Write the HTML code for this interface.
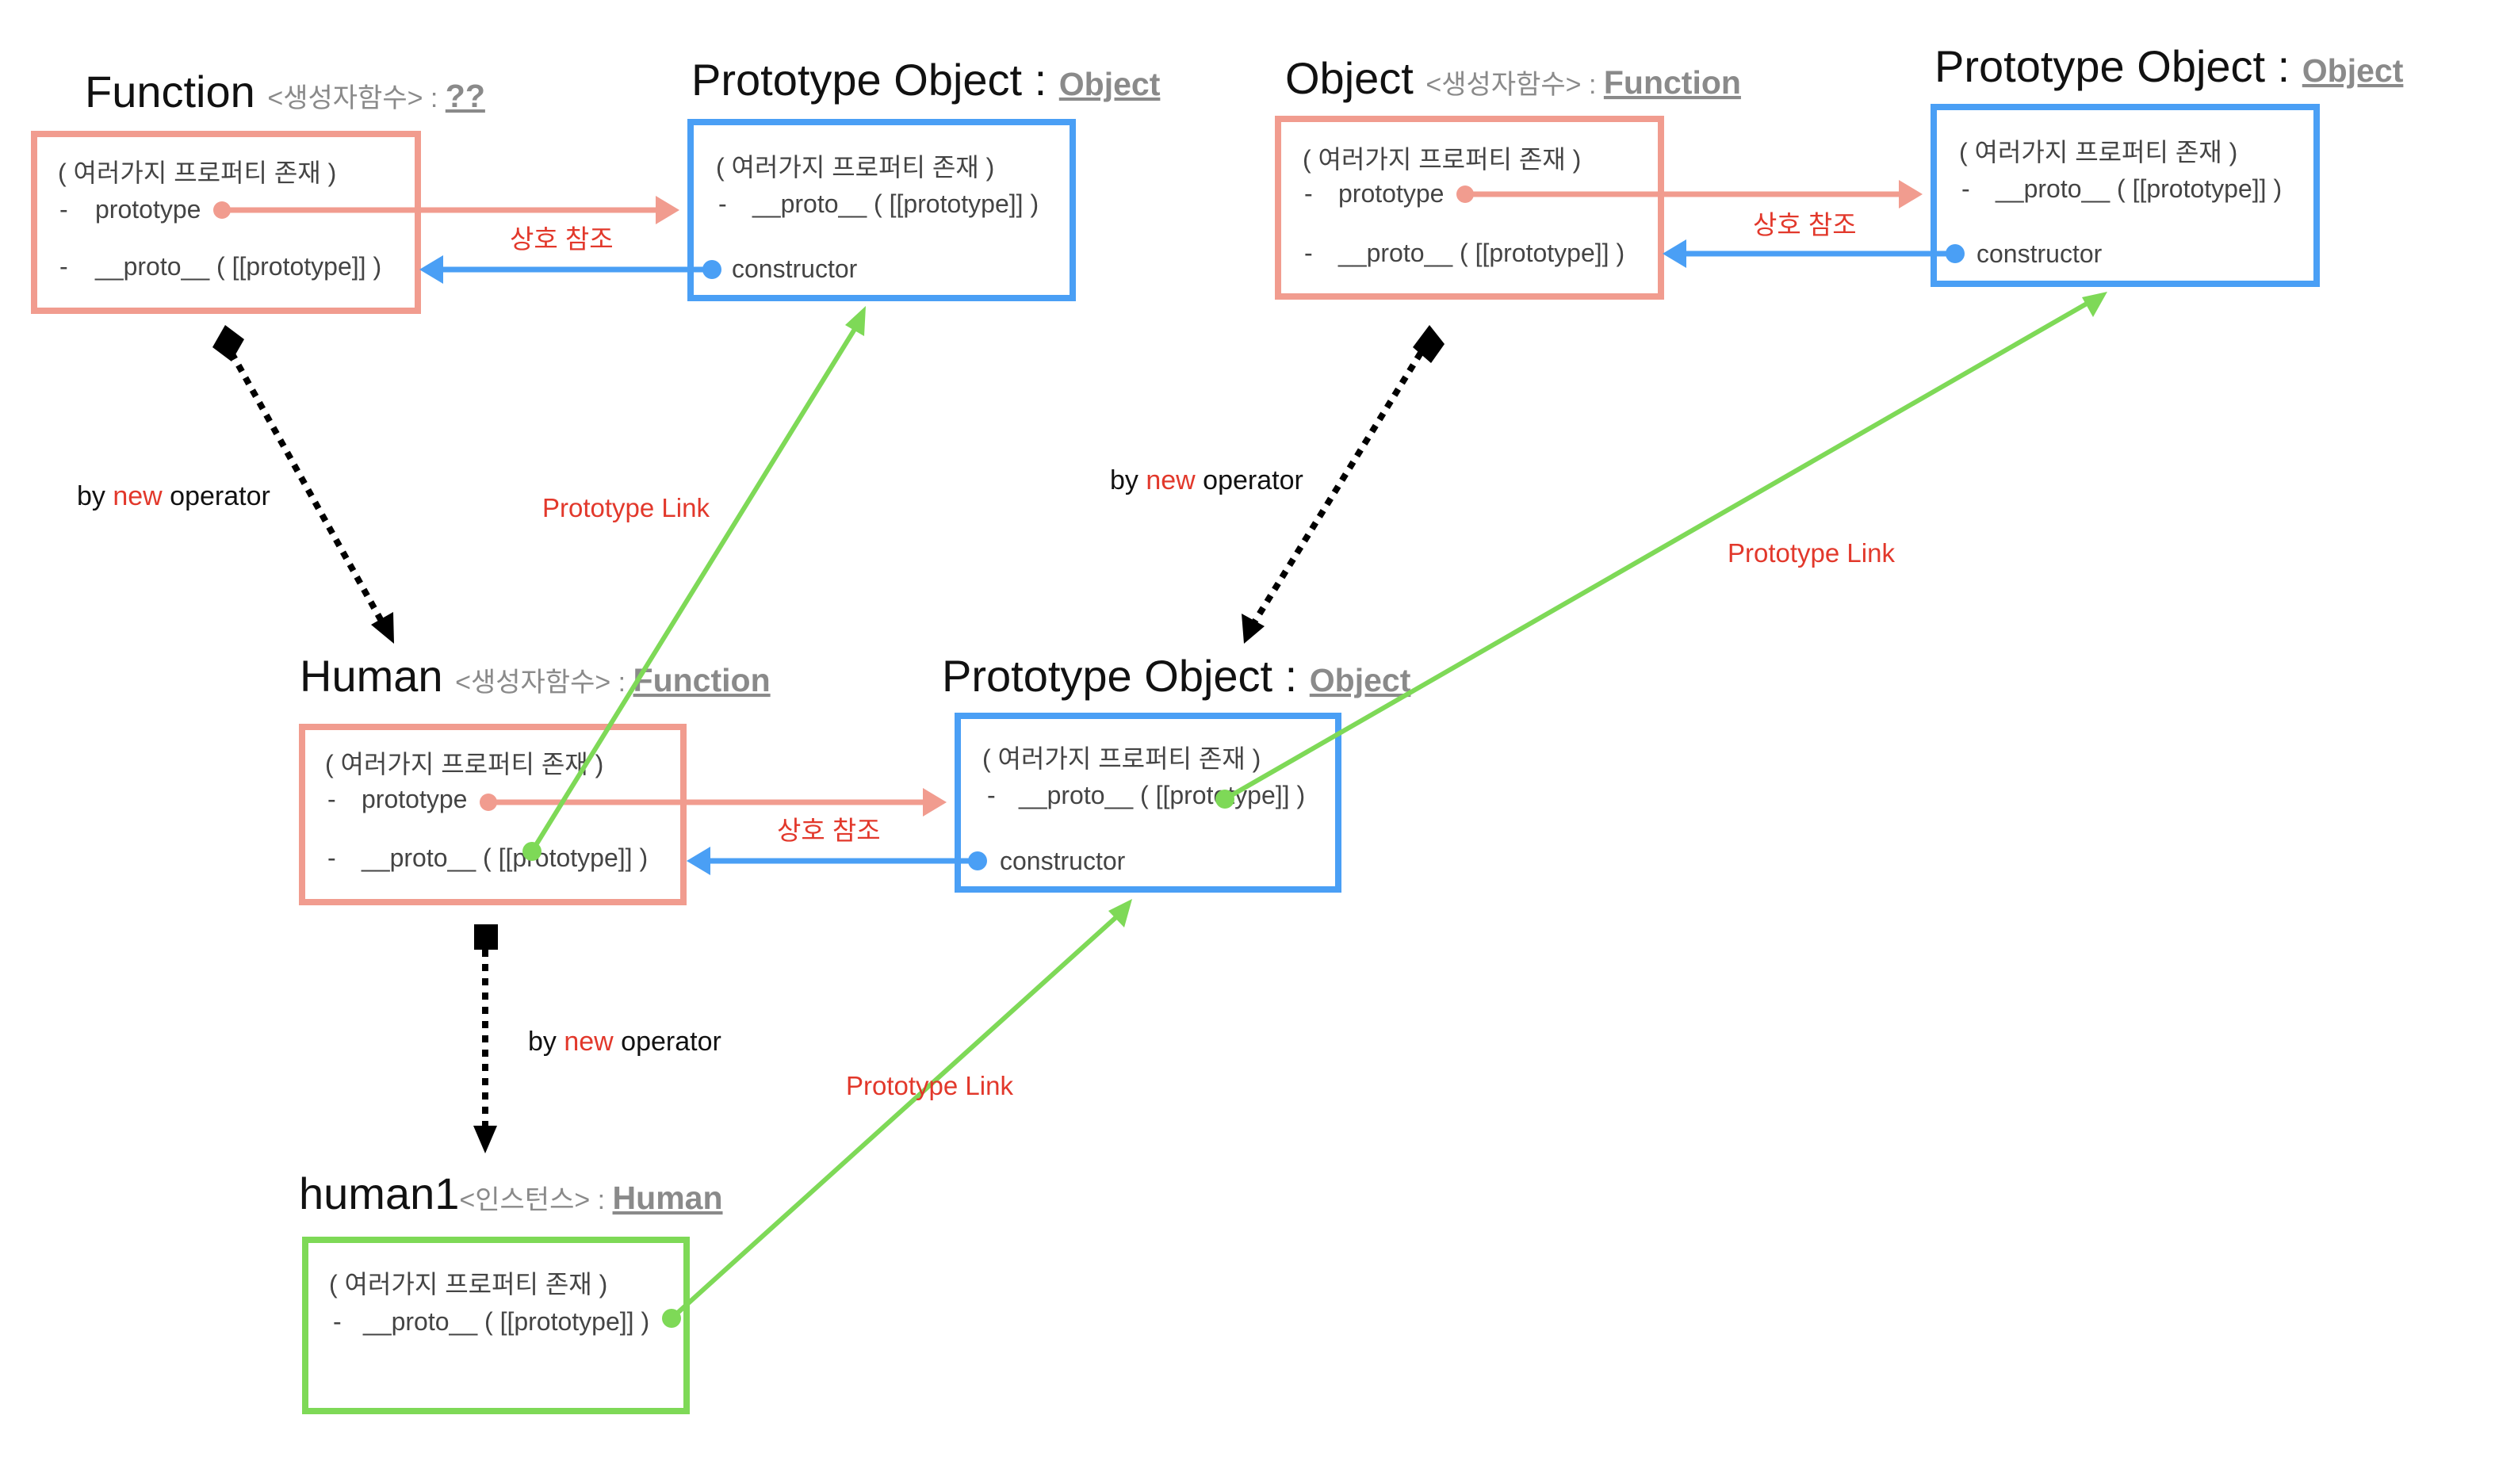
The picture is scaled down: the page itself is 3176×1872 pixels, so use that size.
<!DOCTYPE html>
<html><head><meta charset="utf-8"><style>
html,body{margin:0;padding:0;background:#fff;}
svg{display:block;}
text{font-family:"Liberation Sans","Noto Sans CJK KR",sans-serif;}
.t{font-size:56px;fill:#111;}
.s{font-size:34px;fill:#8a8a8a;}
.u{font-size:41px;font-weight:bold;fill:#8a8a8a;text-decoration:underline;}
.b{font-size:32px;fill:#444;}
.r{font-size:33px;fill:#e2382b;}
.k{font-size:34px;fill:#111;}
</style></head><body>
<svg width="3176" height="1872" viewBox="0 0 3176 1872" xmlns="http://www.w3.org/2000/svg">
<g fill="none" stroke-width="8">
<rect x="43" y="169" width="484" height="223" stroke="#f19c8f"/>
<rect x="871" y="154" width="482" height="222" stroke="#4a9ff5"/>
<rect x="1612" y="150" width="483" height="224" stroke="#f19c8f"/>
<rect x="2439" y="135" width="483" height="223" stroke="#4a9ff5"/>
<rect x="381" y="917" width="481" height="221" stroke="#f19c8f"/>
<rect x="1208" y="903" width="480" height="219" stroke="#4a9ff5"/>
<rect x="385" y="1564" width="481" height="216" stroke="#7ed957"/>
</g>

<text x="107" y="135" class="t">Function <tspan class="s">&lt;생성자함수&gt; : </tspan><tspan class="u">??</tspan></text>
<text x="872" y="120" class="t">Prototype Object : <tspan class="u">Object</tspan></text>
<text x="1621" y="118" class="t">Object <tspan class="s">&lt;생성자함수&gt; : </tspan><tspan class="u">Function</tspan></text>
<text x="2440" y="103" class="t">Prototype Object : <tspan class="u">Object</tspan></text>
<text x="378" y="872" class="t">Human <tspan class="s">&lt;생성자함수&gt; : </tspan><tspan class="u">Function</tspan></text>
<text x="1188" y="872" class="t">Prototype Object : <tspan class="u">Object</tspan></text>
<text x="377" y="1525" class="t">human1<tspan class="s">&lt;인스턴스&gt; : </tspan><tspan class="u">Human</tspan></text>

<g class="b">
<text x="73" y="229" class="b">( 여러가지 프로퍼티 존재 )</text>
<text x="75" y="275" class="b">-</text><text x="120" y="275" class="b">prototype</text>
<text x="75" y="347" class="b">-</text><text x="120" y="347" class="b">__proto__ ( [[prototype]] )</text>

<text x="903" y="222" class="b">( 여러가지 프로퍼티 존재 )</text>
<text x="906" y="268" class="b">-</text><text x="949" y="268" class="b">__proto__ ( [[prototype]] )</text>
<text x="923" y="350" class="b">constructor</text>

<text x="1643" y="212" class="b">( 여러가지 프로퍼티 존재 )</text>
<text x="1645" y="255" class="b">-</text><text x="1688" y="255" class="b">prototype</text>
<text x="1645" y="330" class="b">-</text><text x="1688" y="330" class="b">__proto__ ( [[prototype]] )</text>

<text x="2471" y="203" class="b">( 여러가지 프로퍼티 존재 )</text>
<text x="2474" y="249" class="b">-</text><text x="2517" y="249" class="b">__proto__ ( [[prototype]] )</text>
<text x="2493" y="331" class="b">constructor</text>

<text x="410" y="975" class="b">( 여러가지 프로퍼티 존재 )</text>
<text x="413" y="1019" class="b">-</text><text x="456" y="1019" class="b">prototype</text>
<text x="413" y="1093" class="b">-</text><text x="456" y="1093" class="b">__proto__ ( [[prototype]] )</text>

<text x="1239" y="968" class="b">( 여러가지 프로퍼티 존재 )</text>
<text x="1245" y="1014" class="b">-</text><text x="1285" y="1014" class="b">__proto__ ( [[prototype]] )</text>
<text x="1261" y="1097" class="b">constructor</text>

<text x="415" y="1631" class="b">( 여러가지 프로퍼티 존재 )</text>
<text x="420" y="1678" class="b">-</text><text x="458" y="1678" class="b">__proto__ ( [[prototype]] )</text>
</g>

<g stroke="#f19c8f" stroke-width="7" fill="#f19c8f">
<line x1="280" y1="265" x2="830" y2="265"/><circle cx="280" cy="265" r="11" stroke="none"/>
<polygon points="857,265 827,247 827,283" stroke="none"/>
<line x1="1848" y1="245" x2="2398" y2="245"/><circle cx="1848" cy="245" r="11" stroke="none"/>
<polygon points="2425,245 2395,227 2395,263" stroke="none"/>
<line x1="616" y1="1012" x2="1166" y2="1012"/><circle cx="616" cy="1012" r="11" stroke="none"/>
<polygon points="1194,1012 1164,994 1164,1030" stroke="none"/>
</g>
<g stroke="#4a9ff5" stroke-width="7" fill="#4a9ff5">
<line x1="898" y1="340" x2="555" y2="340"/><circle cx="898" cy="340" r="12" stroke="none"/>
<polygon points="529,340 559,322 559,358" stroke="none"/>
<line x1="2466" y1="320" x2="2123" y2="320"/><circle cx="2466" cy="320" r="12" stroke="none"/>
<polygon points="2097,320 2127,302 2127,338" stroke="none"/>
<line x1="1233" y1="1086" x2="892" y2="1086"/><circle cx="1233" cy="1086" r="12" stroke="none"/>
<polygon points="866,1086 896,1068 896,1104" stroke="none"/>
</g>
<text x="643" y="313" class="r">상호 참조</text>
<text x="2211" y="295" class="r">상호 참조</text>
<text x="980" y="1059" class="r">상호 참조</text>

<g stroke="#000" stroke-width="8" fill="#000">
<line x1="292" y1="445" x2="482" y2="785" stroke-dasharray="9,9"/>
<polygon points="284,410 308,428 292,456 268,438" stroke="none"/>
<polygon points="497,812 468,788 496,772" stroke="none"/>
<line x1="1792" y1="445" x2="1582" y2="785" stroke-dasharray="9,9"/>
<polygon points="1803,410 1822,434 1805,458 1782,438" stroke="none"/>
<polygon points="1569,812 1566,774 1595,790" stroke="none"/>
<line x1="612" y1="1198" x2="612" y2="1420" stroke-dasharray="9,9"/>
<rect x="598" y="1166" width="30" height="32" stroke="none"/>
<polygon points="612,1455 597,1420 627,1420" stroke="none"/>
</g>
<text x="97" y="637" class="k">by <tspan fill="#e2382b">new</tspan> operator</text>
<text x="1400" y="617" class="k">by <tspan fill="#e2382b">new</tspan> operator</text>
<text x="666" y="1325" class="k">by <tspan fill="#e2382b">new</tspan> operator</text>

<g stroke="#7ed957" stroke-width="6" fill="#7ed957">
<line x1="671" y1="1074" x2="1080" y2="412"/><circle cx="671" cy="1074" r="12" stroke="none"/>
<polygon points="1092,386 1090,424 1066,410" stroke="none"/>
<line x1="1545" y1="1008" x2="2632" y2="383"/><circle cx="1545" cy="1008" r="12" stroke="none"/>
<polygon points="2658,368 2640,400 2626,375" stroke="none"/>
<line x1="847" y1="1663" x2="1410" y2="1155"/><circle cx="847" cy="1663" r="12" stroke="none"/>
<polygon points="1428,1134 1418,1170 1398,1149" stroke="none"/>
</g>
<text x="684" y="652" class="r">Prototype Link</text>
<text x="2179" y="709" class="r">Prototype Link</text>
<text x="1067" y="1381" class="r">Prototype Link</text>
</svg>
</body></html>
